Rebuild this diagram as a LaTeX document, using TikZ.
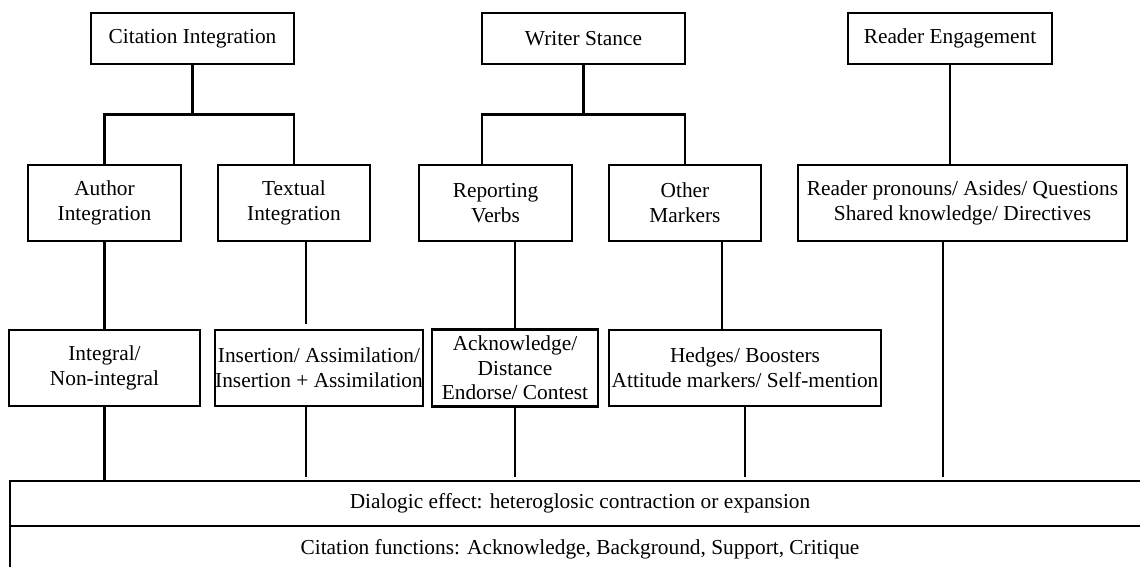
\documentclass[tikz,border=0pt]{standalone}
\usepackage{fontspec}
\setmainfont{Liberation Serif}
\usetikzlibrary{calc}
\begin{document}
\begin{tikzpicture}[x=0.75pt,y=-0.75pt,
  box/.style={draw, line width=1.9pt, rectangle, inner sep=0pt, outer sep=0pt,
    align=center, font=\fontsize{16}{18.5}\selectfont},
  bw/.style={minimum width=#1*0.75pt},
  bh/.style={minimum height=#1*0.75pt},
  conn/.style={line width=1.9pt}]
\useasboundingbox (0,0) rectangle (1140,567);
\clip (0,0) rectangle (1140,567);
% top row
\node[box,bw=203,bh=51] (ci) at (192.5,38.5) {Citation Integration};
\node[box,bw=203,bh=51] (ws) at (583.5,38.5) {Writer Stance};
\node[box,bw=204,bh=51] (re) at (950,38.5) {Reader Engagement};
% second row
\node[box,bw=153,bh=76] (ai) at (104.5,203) {Author\\Integration};
\node[box,bw=152,bh=76] (ti) at (294,203) {Textual\\Integration};
\node[box,bw=153,bh=76] (rv) at (495.5,203) {Reporting\\Verbs};
\node[box,bw=152,bh=76] (om) at (685,203) {Other\\Markers};
\node[box,bw=329,bh=76] (rp) at (962.5,203) {Reader pronouns/ Asides/ Questions\\Shared knowledge/ Directives};
% third row
\node[box,bw=191,bh=76] (ig) at (104.5,368) {Integral/\\Non-integral};
\node[box,bw=204,bh=76] (ia) at (319,368) {Insertion/ Assimilation/\\Insertion + Assimilation};
\node[box,bw=166,bh=77] (ad) at (515,368) {Acknowledge/\\Distance\\Endorse/ Contest};
\node[box,bw=272,bh=76] (hb) at (745,368) {Hedges/ Boosters\\Attitude markers/ Self-mention};
% bottom bands
\node[box,bw=1140,bh=45] (dlg) at (580,503.5) {Dialogic effect: heteroglosic contraction or expansion};
\node[box,bw=1140,bh=46] (cf) at (580,549) {Citation functions: Acknowledge, Background, Support, Critique};
% connectors: top to second row
\coordinate (cij) at ($(ci.south)!0.5!(ci.south |- ai.north)$);
\draw[conn] (ci.south) -- (cij);
\draw[conn] (ai.north) |- (cij) -| (ti.north);
\coordinate (wsj) at ($(ws.south)!0.5!(ws.south |- rv.north)$);
\coordinate (rvin) at ([xshift=-10pt]rv.north);
\draw[conn] (ws.south) -- (wsj);
\draw[conn] (rvin) |- (wsj) -| (om.north);
\draw[conn] (re.south) -- (re.south |- rp.north);
% second to third row
\draw[conn] (ai.south) -- (ig.north);
\coordinate (tiend) at ([xshift=9pt,yshift=4.5pt]ti.south |- ia.north);
\draw[conn] ([xshift=9pt]ti.south) -- (tiend);
\draw[conn] (ad.north |- rv.south) -- (ad.north);
\draw[conn] ([xshift=27.75pt]om.south) -- ([xshift=27.75pt]om.south |- hb.north);
% to the dialogic band
\draw[conn] ([xshift=-14.6pt]rp.south) -- ([xshift=-14.6pt,yshift=3pt]rp.south |- dlg.north);
\draw[conn] (ig.south) -- (ig.south |- dlg.north);
\draw[conn] ([xshift=-9.75pt]ia.south) -- ([xshift=-9.75pt,yshift=3pt]ia.south |- dlg.north);
\draw[conn] (ad.south) -- ([yshift=3pt]ad.south |- dlg.north);
\draw[conn] (hb.south) -- ([yshift=3pt]hb.south |- dlg.north);
\end{tikzpicture}
\end{document}
